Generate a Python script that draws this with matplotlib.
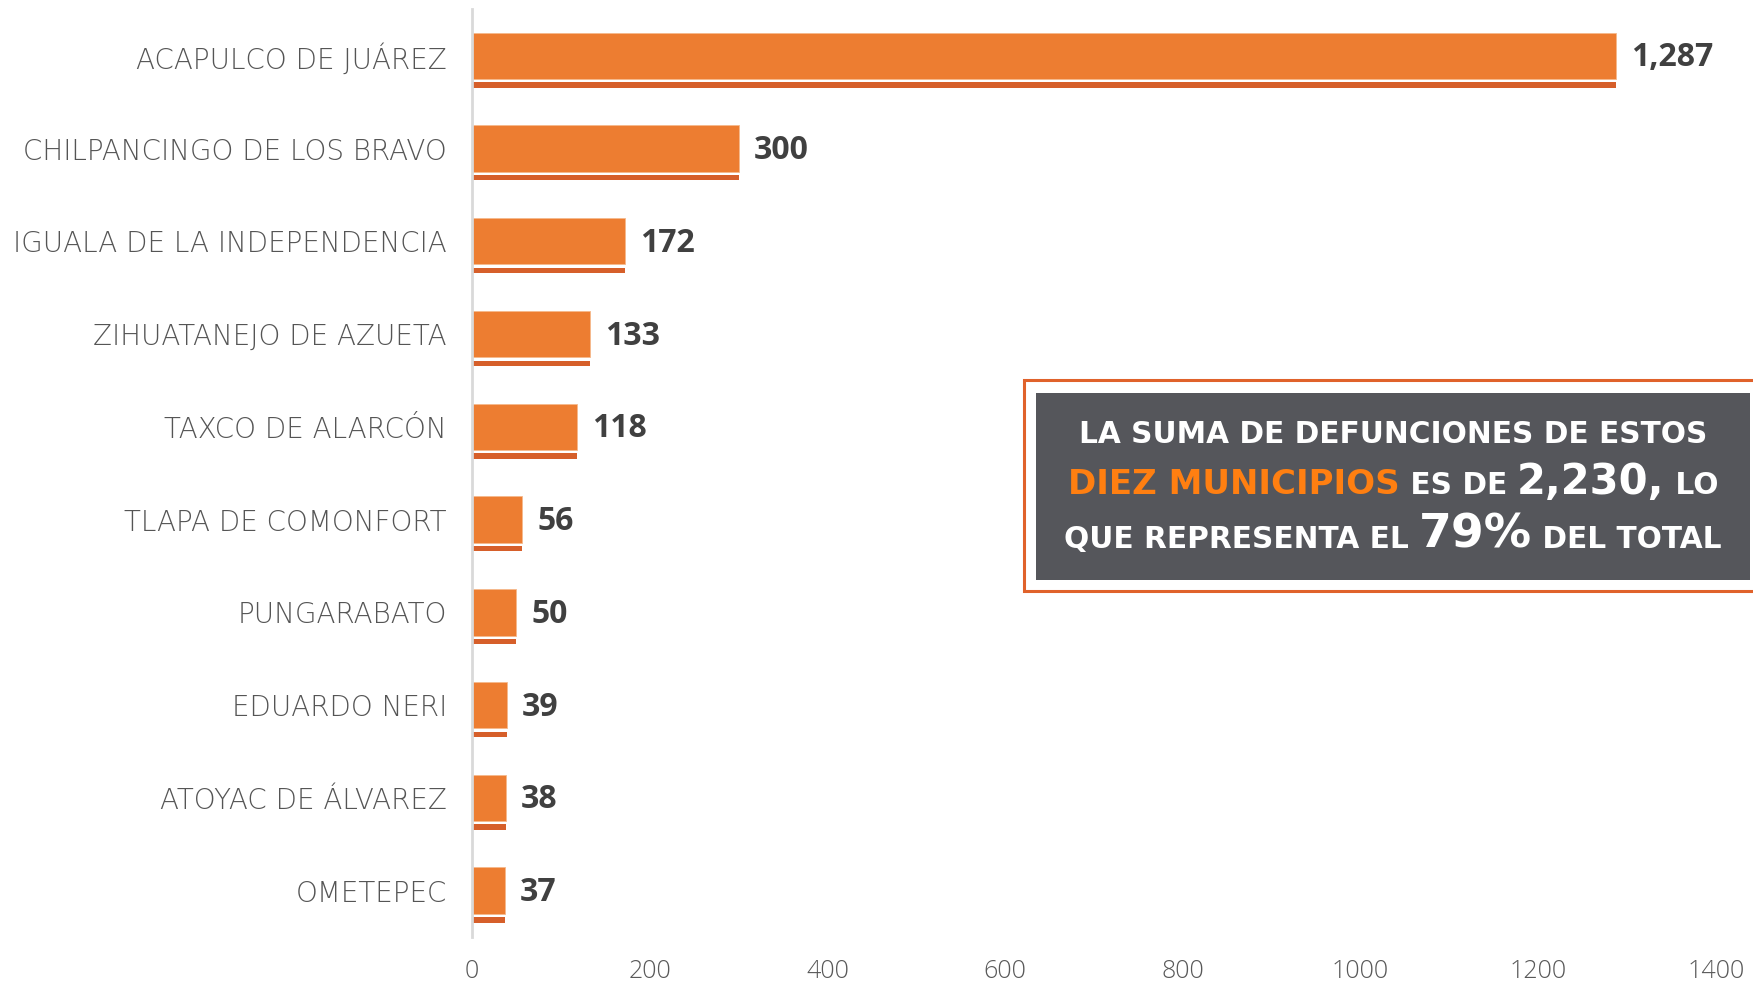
import matplotlib.pyplot as plt
from matplotlib.patches import Rectangle

municipios = ['ACAPULCO DE JUÁREZ', 'CHILPANCINGO DE LOS BRAVO', 'IGUALA DE LA INDEPENDENCIA',
              'ZIHUATANEJO DE AZUETA', 'TAXCO DE ALARCÓN', 'TLAPA DE COMONFORT', 'PUNGARABATO',
              'EDUARDO NERI', 'ATOYAC DE ÁLVAREZ', 'OMETEPEC']
defunciones = [1287, 300, 172, 133, 118, 56, 50, 39, 38, 37]
ticks = [0, 200, 400, 600, 800, 1000, 1200, 1400]

W, H = 1753, 984
plt.rcParams['font.family'] = ['DejaVu Sans']

fig = plt.figure(figsize=(W / 100, H / 100), dpi=100)
ax = fig.add_axes([472 / W, 1 - 937 / H, (1716 - 472) / W, (937 - 9.4) / H])

pos = list(range(len(municipios)))
ax.barh(pos, defunciones, height=0.5, color='#ED7D31', edgecolor='#F6B98C', linewidth=0.6)
ax.barh([p + 0.315 for p in pos], defunciones, height=0.058, color='#D65F2A')

for p, v in zip(pos, defunciones):
    ax.annotate(f'{v:,}', (v, p), xytext=(11, -1.5), textcoords='offset points',
                va='center', ha='left', fontsize=23, fontweight='bold', color='#404040',
                family=['Open Sans', 'DejaVu Sans'])

ax.set_ylim(9.5, -0.5)
ax.set_xlim(0, 1400)
ax.set_yticks(pos)
ax.set_yticklabels(municipios)
ax.set_xticks(ticks)
ax.set_xticklabels([str(t) for t in ticks])
ax.tick_params(axis='y', length=0, pad=18, labelsize=20, labelcolor='#555555')
ax.tick_params(axis='x', length=0, pad=16, labelsize=18, labelcolor='#595959')
for lbl in ax.get_yticklabels():
    lbl.set_fontweight('light')
for lbl in ax.get_xticklabels():
    lbl.set_family(['Open Sans', 'DejaVu Sans'])
    lbl.set_fontweight('light')
for s in ['top', 'right', 'bottom']:
    ax.spines[s].set_visible(False)
ax.spines['left'].set_color('#D9D9D9')
ax.spines['left'].set_linewidth(2)


def fx(px):
    return px / W


def fy(py):
    return 1 - py / H


# text box
fig.patches.append(Rectangle((fx(1024), fy(591)), fx(760), 211 / H, transform=fig.transFigure,
                             facecolor='white', edgecolor='#E0622B', linewidth=2.2, zorder=3))
fig.patches.append(Rectangle((fx(1036), fy(580)), fx(714), 187 / H, transform=fig.transFigure,
                             facecolor='#55565B', edgecolor='none', zorder=4))

renderer = fig.canvas.get_renderer()


def line_of_runs(cx, base_y, runs):
    texts = []
    for s, size, color in runs:
        t = fig.text(0, fy(base_y), s, fontsize=size, color=color, fontweight='bold',
                     va='baseline', ha='left', zorder=5)
        texts.append(t)
    widths = [t.get_window_extent(renderer).width for t in texts]
    x = cx - sum(widths) / 2
    for t, w in zip(texts, widths):
        t.set_x(fx(x))
        x += w


white = 'white'
naranja = '#FF7F11'
line_of_runs(1393, 443, [('LA SUMA DE DEFUNCIONES DE ESTOS', 21.3, white)])
line_of_runs(1393, 494, [('DIEZ MUNICIPIOS', 24.5, naranja), (' ES DE ', 21.3, white),
                         ('2,230,', 30, white), (' LO', 21.3, white)])
line_of_runs(1393, 548, [('QUE REPRESENTA EL ', 21.3, white), ('79%', 34, white),
                         (' DEL TOTAL', 21.3, white)])

fig.savefig('out.png', dpi=100)
